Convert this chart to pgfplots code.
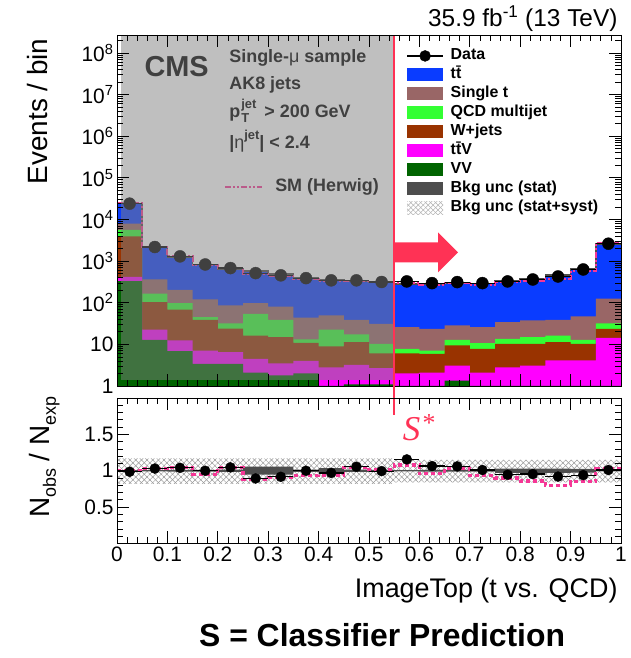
\documentclass[border=0pt]{standalone}
\usepackage{fontspec}
\setmainfont{Liberation Sans}
\setsansfont{Liberation Sans}
\newfontfamily\timesf{Liberation Serif}
\usepackage{pgfplots}
\pgfplotsset{compat=1.18}
\usepackage{pgfplotstable}
\usepgfplotslibrary{fillbetween}
\usetikzlibrary{patterns.meta}

\definecolor{cTT}{RGB}{10,60,255}
\definecolor{cST}{RGB}{153,102,102}
\definecolor{cQCD}{RGB}{51,255,51}
\definecolor{cW}{RGB}{153,51,0}
\definecolor{cTTV}{RGB}{255,0,255}
\definecolor{cVV}{RGB}{0,100,0}
\definecolor{cStat}{RGB}{77,77,77}
\definecolor{cHW}{RGB}{245,55,150}
\definecolor{cRed}{RGB}{255,50,85}
\definecolor{cOver}{RGB}{128,128,128}

% cumulative stack tops (left bin edges), last row repeats bin 20
\pgfplotstableread{
x     vv    ttv   w     qcd   st    tot    hw
0.00  330   420   3900  5600  8000  24200  24200
0.05  12.9  22.5  103   165   363   2120   2184
0.10  6.9   12.4  68    98    205   1250   1300
0.15  3.4   7.1   39    45    120   830    789
0.20  3.4   6.5   24    32    86    650    683
0.25  2.1   4.5   16.3  54    98    572    503
0.30  1.8   3.5   14.9  39    81    495    450
0.35  2.0   4.0   10.9  13.1  44    390    363
0.40  0.8   2.8   8.9   22.5  49.5  352    331
0.45  1.1   3.2   11.3  17.3  39    325    341
0.50  1.1   2.7   6.1   10.3  31    315    321
0.55  0.9   2.0   6.1   7.8   26    280    302
0.60  0.9   2.1   5.9   7.1   23.7  277    266
0.65  1.35  3.1   9.4   12.9  28.5  295    304
0.70  0.9   2.1   7.8   10.7  26    293    272
0.75  0.9   2.8   10.3  13.6  34    342    308
0.80  0.9   3.1   10.3  14.9  37.6  377    324
0.85  0.9   4.1   11.3  16.3  39    464    371
0.90  0.9   4.1   10.3  12.9  46.9  670    570
0.95  0.9   14.4  23.7  32    125   2590   2668
1.00  0.9   14.4  23.7  32    125   2590   2668
}\stacktab

\pgfplotstableread{
x      y      r
0.025  24000  0.986
0.075  2180   1.03
0.125  1300   1.04
0.175  830    1.00
0.225  680    1.046
0.275  515    0.894
0.325  455    0.917
0.375  390    1.00
0.425  345    0.97
0.475  345    1.055
0.525  315    0.995
0.575  325    1.156
0.625  296    1.064
0.675  313    1.06
0.725  296    1.01
0.775  325    0.945
0.825  362    0.954
0.875  427    0.92
0.925  630    0.94
0.975  2620   1.01
}\datatab

\pgfplotstableread{
x     slo    shi    ulo   uhi   hr
0.00  0.99   1.01   0.82  1.17  1.00
0.05  0.99   1.01   0.82  1.17  1.03
0.10  0.988  1.012  0.82  1.17  1.04
0.15  0.988  1.012  0.82  1.17  0.95
0.20  0.985  1.015  0.82  1.17  1.05
0.25  0.945  1.055  0.82  1.17  0.88
0.30  0.945  1.055  0.82  1.17  0.91
0.35  0.985  1.015  0.82  1.17  0.93
0.40  0.965  1.035  0.82  1.17  0.94
0.45  0.985  1.015  0.82  1.17  1.05
0.50  0.988  1.012  0.82  1.17  1.02
0.55  0.99   1.01   0.84  1.15  1.08
0.60  0.988  1.012  0.84  1.15  0.96
0.65  0.988  1.012  0.84  1.15  1.03
0.70  0.988  1.012  0.84  1.15  0.93
0.75  0.97   1.03   0.84  1.15  0.90
0.80  0.97   1.03   0.84  1.15  0.86
0.85  0.97   1.03   0.84  1.15  0.80
0.90  0.975  1.025  0.84  1.15  0.85
0.95  0.99   1.01   0.84  1.15  1.03
1.00  0.99   1.01   0.84  1.15  1.03
}\ratiotab

\pgfplotsset{
  cmsaxis/.style={
    scale only axis, width=504bp, xmin=0, xmax=1,
    axis on top, tick align=inside,
    major tick length=12bp, minor tick length=6bp,
    every tick/.style={black, line width=0.7bp},
    axis line style={black, line width=0.8bp},
    tick label style={font=\fontsize{21}{21}\selectfont},
    xtick={0,0.1,0.2,0.3,0.4,0.5,0.6,0.7,0.8,0.9,1},
    minor x tick num=4,
    clip mode=individual,
    /pgf/number format/assume math mode=true,
  },
  legbox/.style={legend image code/.code={\fill[##1, draw=none] (0bp,-6.5bp) rectangle (36bp,6.5bp);}},
}

\begin{document}
\begin{tikzpicture}

% ---------------- top panel ----------------
\begin{axis}[cmsaxis, at={(117bp,272bp)}, anchor=south west, height=351bp,
  ymode=log, ymin=1, ymax=2.7e8,
  ytick={1,10,100,1e3,1e4,1e5,1e6,1e7,1e8},
  yticklabels={1,10,10\textsuperscript{2},10\textsuperscript{3},10\textsuperscript{4},10\textsuperscript{5},10\textsuperscript{6},10\textsuperscript{7},10\textsuperscript{8}},
  minor ytick={2,3,4,5,6,7,8,9,
    2e1,3e1,4e1,5e1,6e1,7e1,8e1,9e1,
    2e2,3e2,4e2,5e2,6e2,7e2,8e2,9e2,
    2e3,3e3,4e3,5e3,6e3,7e3,8e3,9e3,
    2e4,3e4,4e4,5e4,6e4,7e4,8e4,9e4,
    2e5,3e5,4e5,5e5,6e5,7e5,8e5,9e5,
    2e6,3e6,4e6,5e6,6e6,7e6,8e6,9e6,
    2e7,3e7,4e7,5e7,6e7,7e7,8e7,9e7,2e8},
  xticklabels={},
  legend style={at={(axis description cs:0.574,0.968)}, anchor=north west,
    draw=none, fill=none, inner sep=0pt,
    font=\bfseries\fontsize{16}{16}\selectfont,
    nodes={text height=11.5bp, text depth=3.5bp, inner sep=2bp},
    /tikz/every odd column/.append style={column sep=5bp},
    row sep=0pt},
  legend cell align=left,
]
\addlegendimage{legend image code/.code={\draw[black,line width=1.2bp] (0bp,0bp)--(36bp,0bp); \fill[black] (18bp,0bp) circle (5.5bp);}}
\addlegendentry{Data}
\addplot[const plot, fill=cTT, draw=none, legbox] table[x=x,y=tot]{\stacktab} \closedcycle;
\addlegendentry{t\={t}}
\addplot[const plot, fill=cST, draw=none, legbox] table[x=x,y=st]{\stacktab} \closedcycle;
\addlegendentry{Single t}
\addplot[const plot, fill=cQCD, draw=none, legbox] table[x=x,y=qcd]{\stacktab} \closedcycle;
\addlegendentry{QCD multijet}
\addplot[const plot, fill=cW, draw=none, legbox] table[x=x,y=w]{\stacktab} \closedcycle;
\addlegendentry{W+jets}
\addplot[const plot, fill=cTTV, draw=none, legbox] table[x=x,y=ttv]{\stacktab} \closedcycle;
\addlegendentry{t\={t}V}
\addplot[const plot, fill=cVV, draw=none, legbox] table[x=x,y=vv]{\stacktab} \closedcycle;
\addlegendentry{VV}
\addlegendimage{legbox, fill=cStat, draw=none}
\addlegendentry{Bkg unc (stat)}
\addlegendimage{draw=none, legend image code/.code={
  \path[draw=none, pattern={Lines[angle=45,distance=3.5bp,line width=0.5bp]}, pattern color=black!30] (0bp,-6.5bp) rectangle (36bp,6.5bp);
  \path[draw=none, pattern={Lines[angle=-45,distance=3.5bp,line width=0.5bp]}, pattern color=black!30] (0bp,-6.5bp) rectangle (36bp,6.5bp);}}
\addlegendentry{Bkg unc (stat+syst)}

\addplot[const plot, draw=cStat, line width=1.5bp, forget plot] table[x=x,y=tot]{\stacktab};
\addplot[const plot, draw=cHW, line width=2bp, dash pattern=on 6bp off 2bp on 2bp off 2bp on 2bp off 2bp, forget plot] table[x=x,y=hw]{\stacktab};
\addplot[only marks, mark=*, mark size=6bp, black, forget plot,
  error bars/.cd, x dir=both, x fixed=0.025, error mark=none,
  error bar style={line width=1.2bp, black}] table[x=x,y=y]{\datatab};

% text under the shaded region
\node[anchor=base west, font=\bfseries\fontsize{29}{29}\selectfont] at (axis description cs:0.0476,0.881) {CMS};
\node[anchor=base west, font=\bfseries\fontsize{18}{18}\selectfont] at (axis description cs:0.216,0.921) {Single-{\mdseries μ} sample};
\node[anchor=base west, font=\bfseries\fontsize{18}{18}\selectfont] at (axis description cs:0.216,0.845) {AK8 jets};
\node[anchor=base west, font=\bfseries\fontsize{18}{18}\selectfont] at (axis description cs:0.216,0.764) {p\kern1bp\raisebox{-5bp}{\makebox[0pt][l]{\fontsize{13}{13}\selectfont T}}\raisebox{9bp}{\fontsize{13}{13}\selectfont jet} \,> 200 GeV};
\node[anchor=base west, font=\bfseries\fontsize{18}{18}\selectfont] at (axis description cs:0.216,0.677) {|{\mdseries η}\raisebox{9bp}{\fontsize{13}{13}\selectfont jet}| < 2.4};
\draw[cHW, line width=2.5bp, dash pattern=on 6bp off 2bp on 2bp off 2bp on 2bp off 2bp] (axis description cs:0.214,0.567) -- (axis description cs:0.288,0.567);
\node[anchor=west, font=\bfseries\fontsize{18}{18}\selectfont] at (axis description cs:0.307,0.567) {SM (Herwig)};

% shaded region
\fill[cOver, opacity=0.5] (axis cs:0.008,1.4) rectangle (axis cs:0.55,2.7e8);

% cut line and arrow
\draw[cRed, line width=2.2bp] (axis cs:0.55,1) -- (axis cs:0.55,2.7e8);
\fill[cRed] (axis cs:0.5516,1619) ++(0bp,-10bp) -- ++(43bp,0bp) -- ++(0bp,-10bp) -- ++(20bp,20bp) -- ++(-20bp,20bp) -- ++(0bp,-10bp) -- ++(-43bp,0bp) -- cycle;

\node[anchor=base east, font=\fontsize{24.5}{24.5}\selectfont] at (axis description cs:1,1.024) {35.9 fb\textsuperscript{-1} (13 TeV)};
\node[rotate=90, anchor=base east, font=\fontsize{28}{28}\selectfont] at (axis description cs:-0.137,1) {Events / bin};
\end{axis}

% ---------------- ratio panel ----------------
\begin{axis}[cmsaxis, at={(117bp,114.5bp)}, anchor=south west, height=145.5bp,
  ymin=0, ymax=2, ytick={0.5,1,1.5}, yticklabels={0.5,1,1.5},
  minor ytick={0.1,0.2,0.3,0.4,0.6,0.7,0.8,0.9,1.1,1.2,1.3,1.4,1.6,1.7,1.8,1.9},
  xticklabels={0,0.1,0.2,0.3,0.4,0.5,0.6,0.7,0.8,0.9,1},
]
\addplot[name path=uhi, const plot, draw=none] table[x=x,y=uhi]{\ratiotab};
\addplot[name path=ulo, const plot, draw=none] table[x=x,y=ulo]{\ratiotab};
\addplot[pattern={Lines[angle=45,distance=4bp,line width=0.5bp]}, pattern color=black!40] fill between[of=uhi and ulo];
\addplot[pattern={Lines[angle=-45,distance=4bp,line width=0.5bp]}, pattern color=black!40] fill between[of=uhi and ulo];
\addplot[name path=shi, const plot, draw=none] table[x=x,y=shi]{\ratiotab};
\addplot[name path=slo, const plot, draw=none] table[x=x,y=slo]{\ratiotab};
\addplot[fill=cStat, draw=none] fill between[of=shi and slo];
\addplot[const plot, draw=cHW, line width=3.2bp, dash pattern=on 4bp off 3bp] table[x=x,y=hr]{\ratiotab};
\addplot[only marks, mark=*, mark size=5bp, black,
  error bars/.cd, x dir=both, x fixed=0.025, error mark=none,
  error bar style={line width=1.2bp, black}] table[x=x,y=r]{\datatab};

\draw[cRed, line width=2.2bp] (axis cs:0.55,1.77) -- (axis cs:0.55,2.17);
\node[anchor=base west, text=cRed, inner sep=0pt, font=\timesf\itshape\fontsize{35}{35}\selectfont] at (axis cs:0.567,1.41) {S\kern1bp\raisebox{9bp}{\fontsize{26}{26}\selectfont *}};

\node[rotate=90, anchor=base east, font=\fontsize{28}{28}\selectfont] at (axis description cs:-0.133,1.034) {N\raisebox{-6bp}{\fontsize{18}{18}\selectfont obs} / N\raisebox{-6bp}{\fontsize{18}{18}\selectfont exp}};
\node[anchor=base east, font=\fontsize{27}{27}\selectfont] at (axis description cs:1,-0.368) {ImageTop (t vs. QCD)};
\node[anchor=base, font=\bfseries\fontsize{32}{32}\selectfont] at (axis description cs:0.526,-0.709) {S = Classifier Prediction};
\end{axis}
\path (0,0) rectangle (628bp,658bp);
\end{tikzpicture}
\end{document}
